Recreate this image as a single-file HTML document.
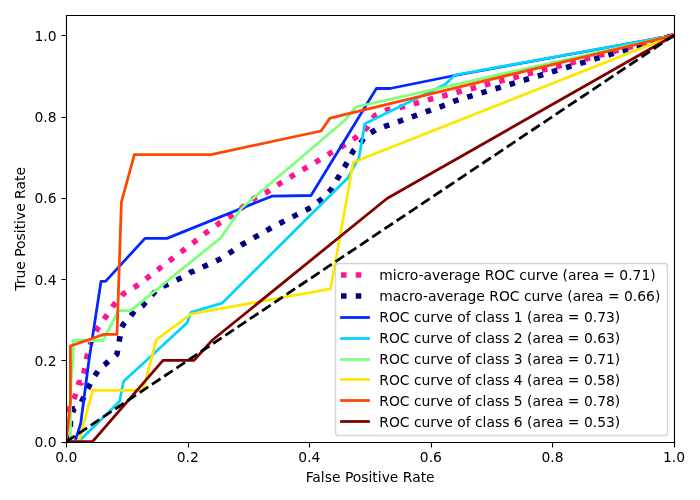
<!DOCTYPE html>
<html><head><meta charset="utf-8"><title>ROC</title><style>html,body{margin:0;padding:0;background:#fff;width:700px;height:500px;overflow:hidden}svg{display:block;will-change:transform}</style></head><body>
<svg width="700" height="500" viewBox="0 0 700 500">
<defs><clipPath id="ax"><rect x="66" y="15" width="608" height="427"/></clipPath></defs>
<rect x="0" y="0" width="700" height="500" fill="#fff"/>
<g clip-path="url(#ax)" fill="none" stroke-linejoin="round">
<polyline points="66.278,441.722 68.5,410 75,396.2 79,382.5 81.5,383 84.3,370.8 87,356.2 90.8,342.7 97.5,328.5 105.7,316.8 114,304.6 123.6,293.7 136.4,286 148.1,277.2 159.6,268.4 171.5,259.2 183.1,250.5 194.8,241.5 206.5,232.4 218.3,223.9 230.7,216.2 242.6,207.3 254.6,198 267.4,191.9 279.7,183.6 292.2,175.9 305,168.4 317.8,160.9 330.3,153.2 342.9,146 355.4,137.8 366.6,128.2 374.6,115.7 387.4,109.8 401.8,107.1 416.2,103.2 430.3,99.2 444.7,95.5 459.1,91.7 473,88.2 487.4,84.3 501.7,80.7 516,77.1 530,73.3 544.6,69.6 558.9,66.1 674,35.32" stroke="#ff1493" stroke-width="5.556" stroke-dasharray="5.556,9.167" stroke-dashoffset="0.18"/>
<polyline points="66.278,441.722 70.4,425.768 70.7,416.797 73.1,411.159 73.3,408.73 75,408.632 78.5,406.566 78.8,406.34 80.7,403.736 89,386.201 92.5,379.449 92.7,379.024 101,366.531 103,365.704 104,364.971 105.5,363.958 117,354.104 118.6,344.709 119.5,339.712 121.4,327.889 123.5,324.078 130.7,315.905 134.4,311.206 143,305.512 145,302.927 156.4,290.258 163,286.271 167,284.625 187,275.053 191,271.986 194,271.142 211,263.25 212.5,262.5 220.8,258.747 222,258.078 241.4,245.011 271.8,227.508 311,207.454 321,199.64 330,190.779 330.6,190.308 345.2,165.715 348,160.834 353.3,150.843 356,148.083 359,145.506 364.8,136.707 376.5,129.295 387,125.534 390,124.58 445,105.116 454.5,101.043 455,100.83 674,35.32" stroke="#000080" stroke-width="5.556" stroke-dasharray="5.556,9.167" stroke-dashoffset="-1.1"/>
<polyline points="66.278,441.722 75,441.72 80.7,423.5 89,360 101,281.4 105.5,281.4 145,238.4 167,238.4 271.8,196.2 311,195.5 376.5,88.3 390,88.5 454.5,75.5 674,35.32" stroke="#0028ff" stroke-width="2.778" stroke-linecap="square"/>
<polyline points="66.278,441.722 78.5,441.72 119.5,401.5 123.5,381.5 187,323 191,312.4 222,303.2 348,177.7 359,157.4 364.8,123.8 445,84.4 455,75 674,35.32" stroke="#00d4ff" stroke-width="2.778" stroke-linecap="square"/>
<polyline points="66.278,441.722 70.4,441.72 70.7,388 73.1,355 73.3,340.5 103,340.5 118.6,310.6 130.7,310.6 220.8,237.8 241.4,208.2 345.2,120 356,107 674,35.32" stroke="#7dff7a" stroke-width="2.778" stroke-linecap="square"/>
<polyline points="66.278,441.722 78.8,441.72 92.7,390.3 143,390.3 156.4,339.6 191,314 330.6,288.8 353.3,162.3 674,35.32" stroke="#ffe600" stroke-width="2.778" stroke-linecap="square"/>
<polyline points="66.278,441.722 70.4,402 70.4,346 104,334.4 117,334.4 121.4,202 134.4,154.6 211,154.6 321,131 330,118.1 674,35.32" stroke="#ff4700" stroke-width="2.778" stroke-linecap="square"/>
<polyline points="66.278,441.722 92.5,441.72 163,360.3 194,360.3 212.5,340 387,198.5 674,35.32" stroke="#800000" stroke-width="2.778" stroke-linecap="square"/>
<polyline points="66.278,441.722 674,35.32" stroke="#000" stroke-width="2.778" stroke-dasharray="10.278,4.444"/>
</g>
<g fill="none" stroke="#000" stroke-width="1.111" stroke-linecap="square" stroke-linejoin="miter">
<path d="M66.5 442.5V15.5"/>
<path d="M674.5 442.5V15.5"/>
<path d="M66.5 442.5H674.5"/>
<path d="M66.5 15.5H674.5"/>
</g>
<g fill="none" stroke="#000" stroke-width="1.111">
<path d="M66.5 442.5V447.5"/>
<path d="M188.5 442.5V447.5"/>
<path d="M309.5 442.5V447.5"/>
<path d="M431.5 442.5V447.5"/>
<path d="M552.5 442.5V447.5"/>
<path d="M674.5 442.5V447.5"/>
<path d="M61.5 442.5H66.5"/>
<path d="M61.5 360.5H66.5"/>
<path d="M61.5 279.5H66.5"/>
<path d="M61.5 198.5H66.5"/>
<path d="M61.5 117.5H66.5"/>
<path d="M61.5 35.5H66.5"/>
</g>
<g font-family="'DejaVu Sans', 'Liberation Sans', sans-serif" font-size="13.889" fill="#000">
<text x="66.278" y="462.444" text-anchor="middle">0.0</text>
<text x="187.822" y="462.444" text-anchor="middle">0.2</text>
<text x="309.367" y="462.444" text-anchor="middle">0.4</text>
<text x="430.911" y="462.444" text-anchor="middle">0.6</text>
<text x="552.456" y="462.444" text-anchor="middle">0.8</text>
<text x="674" y="462.444" text-anchor="middle">1.0</text>
<text x="56.556" y="447.222" text-anchor="end">0.0</text>
<text x="56.556" y="365.942" text-anchor="end">0.2</text>
<text x="56.556" y="284.661" text-anchor="end">0.4</text>
<text x="56.556" y="203.381" text-anchor="end">0.6</text>
<text x="56.556" y="122.101" text-anchor="end">0.8</text>
<text x="56.556" y="40.82" text-anchor="end">1.0</text>
<text x="370.139" y="482" text-anchor="middle">False Positive Rate</text>
<text x="25" y="228.861" text-anchor="middle" transform="rotate(-90 25 228.861)">True Positive Rate</text>
</g>
<rect x="335.5" y="263.5" width="332" height="172" rx="2.778" fill="#fff" stroke="#ccc" stroke-width="1.389" opacity="0.8"/>
<path d="M341 275H368" stroke="#ff1493" stroke-width="5.556" stroke-dasharray="5.556,9.167" fill="none"/>
<path d="M341 296H368" stroke="#000080" stroke-width="5.556" stroke-dasharray="5.556,9.167" fill="none"/>
<path d="M341.5 317.5H368.5" stroke="#0028ff" stroke-width="2.778" stroke-linecap="square" fill="none"/>
<path d="M341.5 338.5H368.5" stroke="#00d4ff" stroke-width="2.778" stroke-linecap="square" fill="none"/>
<path d="M341.5 359.5H368.5" stroke="#7dff7a" stroke-width="2.778" stroke-linecap="square" fill="none"/>
<path d="M341.5 379.5H368.5" stroke="#ffe600" stroke-width="2.778" stroke-linecap="square" fill="none"/>
<path d="M341.5 400.5H368.5" stroke="#ff4700" stroke-width="2.778" stroke-linecap="square" fill="none"/>
<path d="M341.5 421.5H368.5" stroke="#800000" stroke-width="2.778" stroke-linecap="square" fill="none"/>
<g font-family="'DejaVu Sans', 'Liberation Sans', sans-serif" font-size="13.889" fill="#000">
<text x="379.275" y="279.611" text-anchor="start">micro-average ROC curve (area = 0.71)</text>
<text x="379.275" y="300.556" text-anchor="start">macro-average ROC curve (area = 0.66)</text>
<text x="379.275" y="321.5" text-anchor="start">ROC curve of class 1 (area = 0.73)</text>
<text x="379.275" y="343.444" text-anchor="start">ROC curve of class 2 (area = 0.63)</text>
<text x="379.275" y="364.389" text-anchor="start">ROC curve of class 3 (area = 0.71)</text>
<text x="379.275" y="385.333" text-anchor="start">ROC curve of class 4 (area = 0.58)</text>
<text x="379.275" y="406.278" text-anchor="start">ROC curve of class 5 (area = 0.78)</text>
<text x="379.275" y="427.222" text-anchor="start">ROC curve of class 6 (area = 0.53)</text>
</g>
</svg>
</body></html>
